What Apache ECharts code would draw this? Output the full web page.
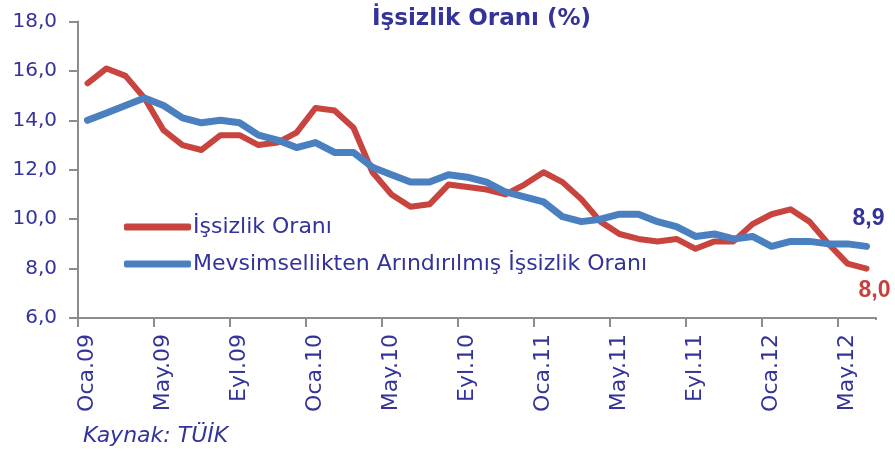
<!DOCTYPE html>
<html>
<head>
<meta charset="utf-8">
<style>
html,body{margin:0;padding:0;background:#fff;}
#c{width:895px;height:454px;}
</style>
<script src="https://cdn.jsdelivr.net/npm/echarts@6/dist/echarts.min.js"></script>
</head>
<body>
<div id="c"></div>
<script>
const categories = [
  "Oca.09","Şub.09","Mar.09","Nis.09","May.09","Haz.09","Tem.09","Ağu.09","Eyl.09","Eki.09","Kas.09","Ara.09",
  "Oca.10","Şub.10","Mar.10","Nis.10","May.10","Haz.10","Tem.10","Ağu.10","Eyl.10","Eki.10","Kas.10","Ara.10",
  "Oca.11","Şub.11","Mar.11","Nis.11","May.11","Haz.11","Tem.11","Ağu.11","Eyl.11","Eki.11","Kas.11","Ara.11",
  "Oca.12","Şub.12","Mar.12","Nis.12","May.12","Haz.12"
];
const unemployment = [
  15.5,16.1,15.8,14.9,13.6,13.0,12.8,13.4,13.4,13.0,13.1,13.5,
  14.5,14.4,13.7,11.9,11.0,10.5,10.6,11.4,11.3,11.2,11.0,11.4,
  11.9,11.5,10.8,9.9,9.4,9.2,9.1,9.2,8.8,9.1,9.1,9.8,
  10.2,10.4,9.9,9.0,8.2,8.0
];
const seasonallyAdjusted = [
  14.0,14.3,14.6,14.9,14.6,14.1,13.9,14.0,13.9,13.4,13.2,12.9,
  13.1,12.7,12.7,12.1,11.8,11.5,11.5,11.8,11.7,11.5,11.1,10.9,
  10.7,10.1,9.9,10.0,10.2,10.2,9.9,9.7,9.3,9.4,9.2,9.3,
  8.9,9.1,9.1,9.0,9.0,8.9
];
const seriesNames = ["İşsizlik Oranı", "Mevsimsellikten Arındırılmış İşsizlik Oranı"];
const yTicks = {min: 6, max: 18, interval: 2};

const txt = '#333399';
const fmt = v => v.toFixed(1).replace('.', ',');
const last = categories.length - 1;

const chart = echarts.init(document.getElementById('c'), null, {renderer: 'canvas'});
chart.setOption({
  animation: false,
  backgroundColor: '#ffffff',
  title: {
    text: 'İşsizlik Oranı (%)',
    left: 372, top: 8, padding: 0,
    textStyle: {fontFamily: 'DejaVu Sans', fontWeight: 'bold', fontSize: 23, color: txt}
  },
  grid: {left: 78, right: 19, top: 21.5, bottom: 136, containLabel: false},
  legend: {
    orient: 'vertical',
    left: 124, top: 214, padding: 0,
    itemWidth: 67, itemHeight: 7, itemGap: 11,
    icon: 'roundRect',
    data: seriesNames,
    textStyle: {fontFamily: 'DejaVu Sans', fontSize: 22, color: txt, lineHeight: 26, padding: [0,0,0,-3]}
  },
  xAxis: {
    type: 'category',
    data: categories,
    boundaryGap: true,
    axisLine: {lineStyle: {color: '#8c8c8c', width: 2}},
    axisTick: {show: true, interval: i => i % 4 === 0, alignWithLabel: false, length: 9, lineStyle: {color: '#8c8c8c', width: 2}},
    axisLabel: {interval: 3, rotate: 90, margin: 16, fontFamily: 'DejaVu Sans', fontSize: 22, color: txt}
  },
  yAxis: {
    type: 'value',
    min: yTicks.min, max: yTicks.max, interval: yTicks.interval,
    splitLine: {show: false},
    axisLine: {show: true, lineStyle: {color: '#8c8c8c', width: 2}},
    axisTick: {show: true, length: 9, lineStyle: {color: '#8c8c8c', width: 2}},
    axisLabel: {margin: 21, fontFamily: 'DejaVu Sans', fontSize: 20, color: txt, formatter: v => fmt(v)}
  },
  series: [
    {
      name: seriesNames[0],
      type: 'line',
      data: unemployment,
      showSymbol: true,
      symbol: 'circle',
      symbolSize: 0,
      color: '#C8443F',
      lineStyle: {width: 6, color: '#C8443F', cap: 'round', join: 'round'},
      label: {
        show: true, position: 'bottom', distance: 11, offset: [8, 0],
        fontFamily: 'Liberation Sans', fontWeight: 'bold', fontSize: 23, color: '#C8403C',
        formatter: p => p.dataIndex === last ? fmt(p.value) : ''
      },
      z: 2
    },
    {
      name: seriesNames[1],
      type: 'line',
      data: seasonallyAdjusted,
      showSymbol: true,
      symbol: 'circle',
      symbolSize: 0,
      color: '#4A80C0',
      lineStyle: {width: 7, color: '#4A80C0', cap: 'round', join: 'round'},
      label: {
        show: true, position: 'top', distance: 16, offset: [2, 0],
        fontFamily: 'Liberation Sans', fontWeight: 'bold', fontSize: 23, color: txt,
        formatter: p => p.dataIndex === last ? fmt(p.value) : ''
      },
      z: 3
    }
  ],
  graphic: [
    {
      type: 'text',
      left: 83, top: 425,
      style: {text: 'Kaynak: TÜİK', fontFamily: 'DejaVu Sans', fontStyle: 'italic', fontSize: 22, fill: txt}
    },
    {
      type: 'rect', silent: true, z: 100,
      shape: {x: 872, y: 320, width: 10, height: 10},
      style: {fill: '#ffffff'}
    }
  ]
});
</script>
</body>
</html>
